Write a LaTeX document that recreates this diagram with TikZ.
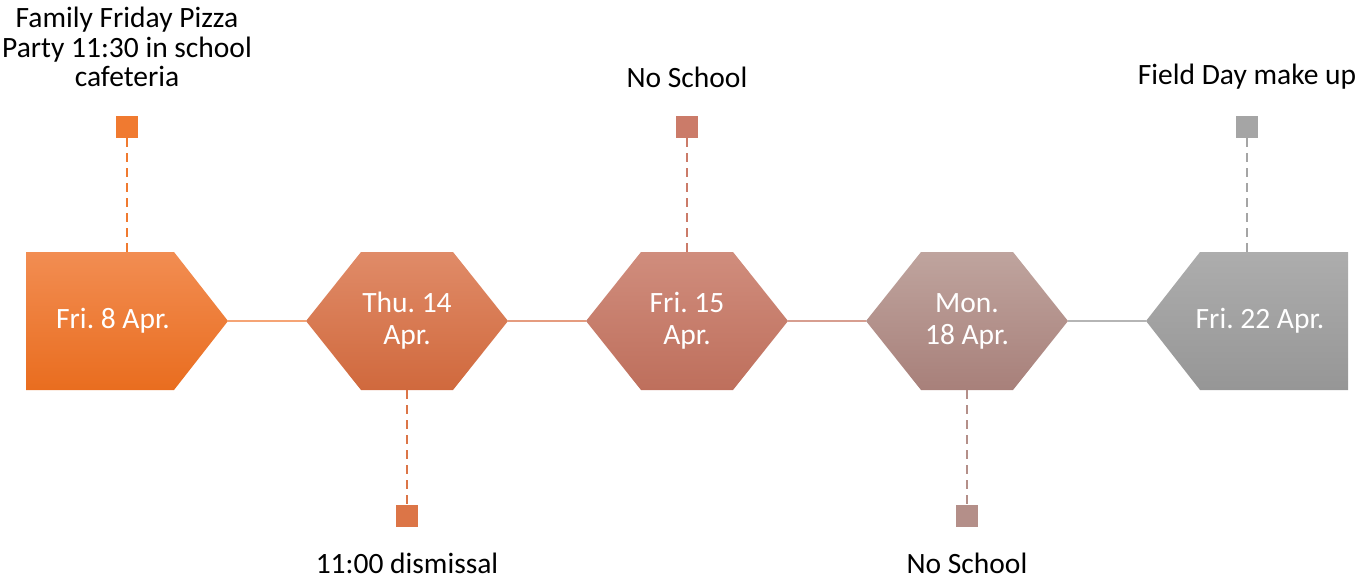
\documentclass[tikz,border=0pt]{standalone}
\usepackage{fontspec}
\setmainfont{Carlito}
\frenchspacing
\begin{document}
\begin{tikzpicture}[x=1pt,y=-1pt,
  box/.style={minimum width=202pt,minimum height=138pt,inner sep=0pt,outer sep=0pt},
  inlabel/.style={text=white,font=\fontsize{29.5}{32}\selectfont,align=center,inner sep=0pt},
  outlabel/.style={text=black,font=\fontsize{29.5}{29.5}\selectfont,align=center,inner sep=0pt},
  mark box/.style={minimum width=22pt,minimum height=22pt,inner sep=0pt,outer sep=0pt},
  stem/.style={line width=2.4pt,dash pattern=on 9pt off 6pt},
  link/.style={line width=1.8pt}]
\useasboundingbox (0,0) rectangle (1359,578);
\definecolor{cA1}{HTML}{F28D52}\definecolor{cA2}{HTML}{E96D1F}\definecolor{cA}{HTML}{F07A30}
\definecolor{cB1}{HTML}{E08B68}\definecolor{cB2}{HTML}{D0693D}\definecolor{cB}{HTML}{DC7547}
\definecolor{cC1}{HTML}{D08D7D}\definecolor{cC2}{HTML}{BE6F5C}\definecolor{cC}{HTML}{CB7B69}
\definecolor{cD1}{HTML}{BFA49E}\definecolor{cD2}{HTML}{A8807A}\definecolor{cD}{HTML}{B48F89}
\definecolor{cE1}{HTML}{ADADAD}\definecolor{cE2}{HTML}{969696}\definecolor{cE}{HTML}{A5A5A5}
% placeholder nodes
\node[box] (s1) at (127,321) {};
\node[box] (s2) at (407,321) {};
\node[box] (s3) at (687,321) {};
\node[box] (s4) at (967,321) {};
\node[box] (s5) at (1247,321) {};
% shapes
\shade[top color=cA1,bottom color=cA2] (s1.north west) -- ([xshift=-54pt]s1.north east) -- (s1.east) -- ([xshift=-54pt]s1.south east) -- (s1.south west) -- cycle;
\shade[top color=cB1,bottom color=cB2] (s2.west) -- ([xshift=-46pt]s2.north) -- ([xshift=46pt]s2.north) -- (s2.east) -- ([xshift=46pt]s2.south) -- ([xshift=-46pt]s2.south) -- cycle;
\shade[top color=cC1,bottom color=cC2] (s3.west) -- ([xshift=-46pt]s3.north) -- ([xshift=46pt]s3.north) -- (s3.east) -- ([xshift=46pt]s3.south) -- ([xshift=-46pt]s3.south) -- cycle;
\shade[top color=cD1,bottom color=cD2] (s4.west) -- ([xshift=-46pt]s4.north) -- ([xshift=46pt]s4.north) -- (s4.east) -- ([xshift=46pt]s4.south) -- ([xshift=-46pt]s4.south) -- cycle;
\shade[top color=cE1,bottom color=cE2] (s5.west) -- ([xshift=54pt]s5.north west) -- (s5.north east) -- (s5.south east) -- ([xshift=54pt]s5.south west) -- cycle;
% texts in shapes
\node[inlabel] (t1) at (113,321) {Fri. 8 Apr.};
\node[inlabel] (t2) at (407,321) {Thu. 14\\Apr.};
\node[inlabel] (t3) at (687,321) {Fri. 15\\Apr.};
\node[inlabel] (t4) at (967,321) {Mon.\\18 Apr.};
\node[inlabel] (t5) at (1260,321) {Fri. 22 Apr.};
% links
\draw[link,color=cA1!80!white] (s1.east) -- (s2.west);
\draw[link,color=cB1!85!white] (s2.east) -- (s3.west);
\draw[link,color=cC1!85!white] (s3.east) -- (s4.west);
\draw[link,color=cE1!90!white] (s4.east) -- (s5.west);
% marks
\node[mark box,fill=cA] (m1) at (127,127) {};
\node[mark box,fill=cB] (m2) at (407,516) {};
\node[mark box,fill=cC] (m3) at (687,127) {};
\node[mark box,fill=cD] (m4) at (967,516) {};
\node[mark box,fill=cE] (m5) at (1247,127) {};
\draw[stem,color=cA] (m1.south) -- (s1.north);
\draw[stem,color=cB] (s2.south) -- (m2.north);
\draw[stem,color=cC] (m3.south) -- (s3.north);
\draw[stem,color=cD] (s4.south) -- (m4.north);
\draw[stem,color=cE] (m5.south) -- (s5.north);
% labels
\node[outlabel] (l1) at (127,47) {Family Friday Pizza\\Party 11:30 in school\\cafeteria};
\node[outlabel] (l2) at (407,563) {11:00 dismissal};
\node[outlabel] (l3) at (687,77) {No School};
\node[outlabel] (l4) at (967,563) {No School};
\node[outlabel] (l5) at (1247,77) {Field Day make up};
\end{tikzpicture}
\end{document}
